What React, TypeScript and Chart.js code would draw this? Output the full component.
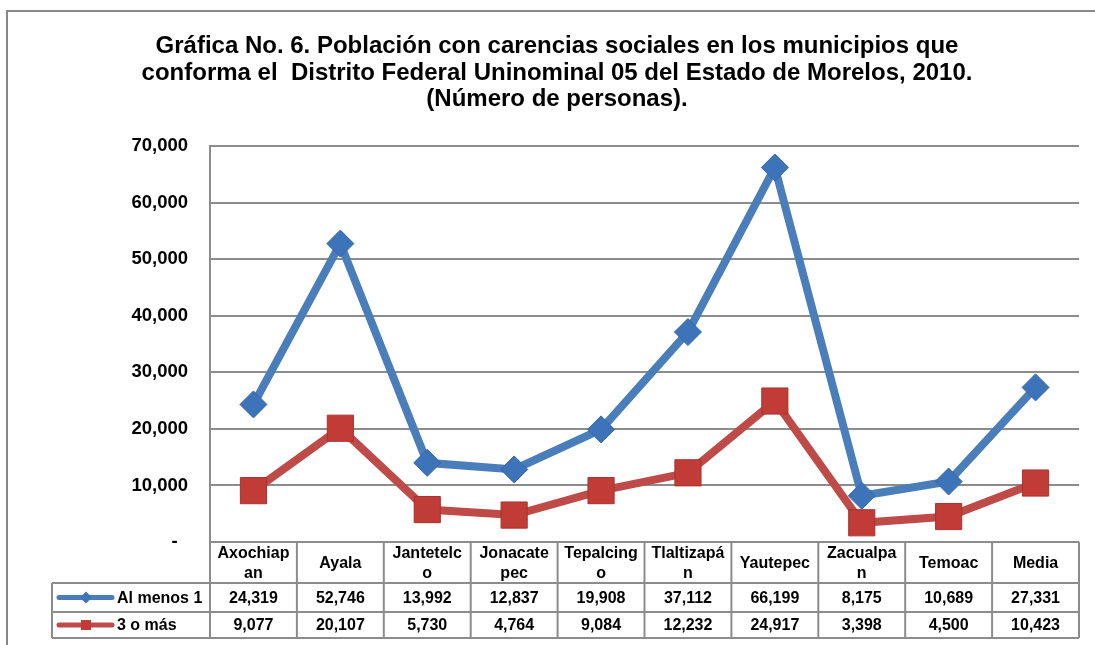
import React, { useEffect, useRef } from "react";
import { Chart, registerables } from "chart.js";

Chart.register(...registerables);

const FONT = '"Liberation Sans", Arial, sans-serif';

const titleLines = [
  "Gráfica No. 6. Población con carencias sociales en los municipios que",
  "conforma el  Distrito Federal Uninominal 05 del Estado de Morelos, 2010.",
  "(Número de personas).",
];

const categories = [
  "Axochiapan",
  "Ayala",
  "Jantetelco",
  "Jonacatepec",
  "Tepalcingo",
  "Tlaltizapán",
  "Yautepec",
  "Zacualpan",
  "Temoac",
  "Media",
];

const seriesNames = ["Al menos 1", "3 o más"];
const alMenos1 = [24319, 52746, 13992, 12837, 19908, 37112, 66199, 8175, 10689, 27331];
const tresOMas = [9077, 20107, 5730, 4764, 9084, 12232, 24917, 3398, 4500, 10423];

const yMin = 0;
const yMax = 70000;
const yStep = 10000;

const BLUE = "#4a7ebb";
const BLUE_MK = "#3d73b8";
const RED = "#be4b48";
const RED_MK = "#c13b37";
const GRID = "#8c8c8c";

const fmt = (v: number) => v.toLocaleString("en-US");

function wrapChars(ctx: CanvasRenderingContext2D, text: string, maxW: number): string[] {
  const lines: string[] = [];
  let cur = "";
  for (const ch of text) {
    if (cur && ctx.measureText(cur + ch).width > maxW) {
      lines.push(cur);
      cur = ch;
    } else cur += ch;
  }
  if (cur) lines.push(cur);
  return lines;
}

const frameAndTable = {
  id: "frameAndTable",
  beforeDraw(chart: any) {
    const { ctx, width, height } = chart;
    ctx.save();
    ctx.fillStyle = "#ffffff";
    ctx.fillRect(0, 0, width, height);
    ctx.strokeStyle = "#888888";
    ctx.lineWidth = 2;
    ctx.beginPath();
    ctx.moveTo(7, height + 2);
    ctx.lineTo(7, 11);
    ctx.lineTo(width + 2, 11);
    ctx.stroke();
    ctx.restore();
  },
  afterDraw(chart: any) {
    const { ctx, chartArea: ca, scales } = chart;
    const xs = scales.x;
    const n = categories.length;
    const colW = (ca.right - ca.left) / n;
    const y0 = ca.bottom;
    const yH = y0 + 41;
    const y1 = y0 + 70;
    const y2 = y0 + 96;
    const legL = 52;
    ctx.save();
    ctx.strokeStyle = GRID;
    ctx.lineWidth = 2;
    const line = (a: number, b: number, c: number, d: number) => {
      ctx.beginPath();
      ctx.moveTo(a, b);
      ctx.lineTo(c, d);
      ctx.stroke();
    };
    line(ca.left, y0, ca.right, y0);
    line(legL, yH, ca.right, yH);
    line(legL, y1, ca.right, y1);
    line(legL, y2, ca.right, y2);
    for (let i = 0; i <= n; i++) {
      const xx = ca.left + i * colW;
      line(xx, y0, xx, y2);
    }
    line(legL, yH, legL, y2);

    ctx.fillStyle = "#000";
    ctx.font = `bold 16px ${FONT}`;
    ctx.textAlign = "center";
    ctx.textBaseline = "middle";
    const rows = [alMenos1, tresOMas];
    const rowMid = [(yH + y1) / 2 + 1, (y1 + y2) / 2 + 1];
    categories.forEach((c, i) => {
      const cx = xs.getPixelForValue(i);
      const lines = wrapChars(ctx, c, colW - 10);
      const cy = (y0 + yH) / 2 + 1;
      const lh = 20;
      lines.forEach((ln, j) => ctx.fillText(ln, cx, cy + (j - (lines.length - 1) / 2) * lh));
      rows.forEach((r, k) => ctx.fillText(fmt(r[i]), cx, rowMid[k]));
    });

    // legend keys
    const colors = [BLUE, RED];
    const mk = [BLUE_MK, RED_MK];
    seriesNames.forEach((name, k) => {
      const cy = rowMid[k] - 1;
      ctx.strokeStyle = colors[k];
      ctx.lineWidth = 5;
      ctx.lineCap = "round";
      line(59, cy, 112, cy);
      ctx.fillStyle = mk[k];
      ctx.beginPath();
      if (k === 0) {
        ctx.moveTo(86, cy - 6);
        ctx.lineTo(92, cy);
        ctx.lineTo(86, cy + 6);
        ctx.lineTo(80, cy);
        ctx.closePath();
      } else {
        ctx.rect(81, cy - 5, 10, 10);
      }
      ctx.fill();
      ctx.fillStyle = "#000";
      ctx.textAlign = "left";
      ctx.fillText(name, 117, rowMid[k]);
    });
    ctx.restore();
  },
};

export default function App() {
  const ref = useRef<HTMLCanvasElement>(null);
  useEffect(() => {
    document.body.style.margin = "0";
    const chart = new Chart(ref.current as HTMLCanvasElement, {
      type: "line",
      data: {
        labels: categories,
        datasets: [
          {
            label: seriesNames[0],
            data: alMenos1,
            borderColor: BLUE,
            borderWidth: 8,
            backgroundColor: BLUE_MK,
            pointStyle: "rectRot",
            pointRadius: 13.5,
            pointBackgroundColor: BLUE_MK,
            pointBorderColor: "#3768a8",
            pointBorderWidth: 1,
            tension: 0,
          },
          {
            label: seriesNames[1],
            data: tresOMas,
            borderColor: RED,
            borderWidth: 8,
            backgroundColor: RED_MK,
            pointStyle: "rect",
            pointRadius: 18.5,
            pointBackgroundColor: RED_MK,
            pointBorderColor: "#a9332f",
            pointBorderWidth: 1,
            tension: 0,
          },
        ],
      },
      options: {
        responsive: false,
        animation: false,
        layout: { autoPadding: false, padding: { left: 35, right: 16, top: 0, bottom: 103 } },
        plugins: {
          legend: { display: false },
          tooltip: { enabled: false },
          title: {
            display: true,
            text: titleLines,
            color: "#000",
            font: { family: FONT, size: 24, weight: "bold", lineHeight: 1.1 },
            padding: { top: 33.5, bottom: 33.3 },
          },
        },
        scales: {
          x: { display: false, offset: true },
          y: {
            min: yMin,
            max: yMax,
            ticks: {
              stepSize: yStep,
              padding: 22,
              color: "#000",
              font: { family: FONT, size: 18.5, weight: "bold" },
              callback: (v: any) => (Number(v) === 0 ? "-  " : fmt(Number(v))),
            },
            grid: { color: GRID, lineWidth: 2, drawTicks: false },
            border: { display: true, color: GRID, width: 2 },
            afterFit: (s: any) => {
              s.width = 175;
              s.paddingTop = 0;
              s.paddingBottom = 0;
            },
          },
        },
      } as any,
      plugins: [frameAndTable],
    });
    return () => chart.destroy();
  }, []);
  return (
    <canvas
      ref={ref}
      width={1095}
      height={645}
      style={{ display: "block", position: "absolute", left: 0, top: 0 }}
    />
  );
}
